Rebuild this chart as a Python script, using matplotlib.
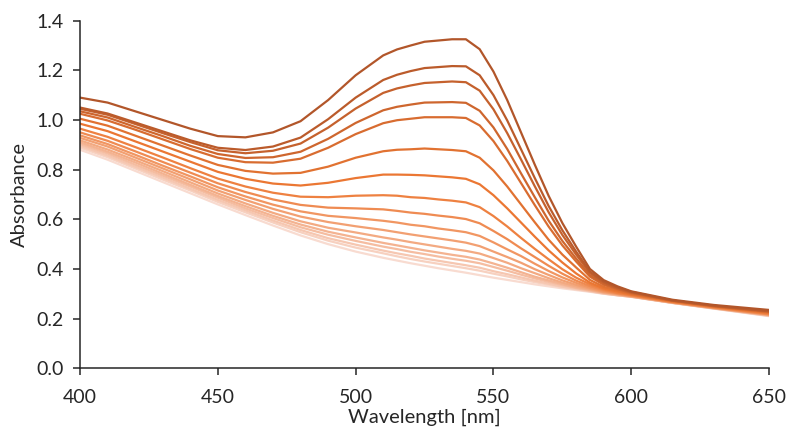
import numpy as np
import matplotlib
matplotlib.use('Agg')
import matplotlib.pyplot as plt
from matplotlib.colors import LinearSegmentedColormap

wavelength = [400, 410, 420, 430, 440, 450, 460, 470, 480, 490, 500, 510, 515, 520, 525,
              530, 535, 540, 545, 550, 555, 560, 565, 570, 575, 580, 585, 590, 595, 600,
              615, 630, 650]

# spectra, lightest (first) to darkest (last)
abs_00 = [.880, .840, .795, .750, .705, .660, .617, .575, .535, .500, .470, .445, .434, .423, .413,
          .403, .394, .385, .375, .365, .356, .347, .338, .330, .322, .315, .308, .300, .294, .288,
          .263, .240, .210]
abs_01 = [.889, .850, .805, .760, .716, .670, .628, .587, .548, .514, .486, .463, .451, .440, .430,
          .421, .412, .403, .393, .381, .370, .358, .347, .337, .327, .318, .310, .301, .294, .288,
          .263, .241, .211]
abs_02 = [.896, .857, .812, .768, .723, .678, .636, .595, .557, .524, .498, .474, .463, .453, .442,
          .433, .424, .415, .405, .391, .379, .366, .353, .341, .329, .320, .311, .301, .294, .288,
          .264, .241, .212]
abs_03 = [.903, .865, .820, .776, .732, .687, .644, .605, .568, .538, .513, .490, .480, .469, .460,
          .450, .441, .433, .423, .408, .393, .377, .362, .348, .335, .323, .313, .303, .295, .289,
          .264, .242, .213]
abs_04 = [.910, .872, .829, .784, .739, .694, .653, .614, .579, .550, .527, .505, .495, .485, .475,
          .466, .457, .449, .438, .422, .405, .387, .369, .354, .339, .325, .315, .304, .296, .289,
          .264, .242, .214]
abs_05 = [.918, .881, .838, .794, .749, .704, .664, .626, .592, .566, .547, .527, .518, .508, .499,
          .490, .481, .473, .462, .444, .425, .403, .383, .363, .345, .330, .317, .306, .298, .290,
          .264, .243, .215]
abs_06 = [.928, .893, .849, .805, .761, .716, .678, .642, .611, .589, .572, .557, .548, .539, .531,
          .523, .515, .506, .492, .470, .448, .425, .399, .376, .354, .336, .321, .307, .299, .290,
          .266, .243, .216]
abs_07 = [.938, .903, .860, .816, .773, .729, .692, .659, .632, .614, .605, .594, .587, .578, .572,
          .563, .556, .548, .533, .507, .479, .452, .421, .392, .366, .344, .325, .310, .300, .292,
          .266, .244, .217]
abs_08 = [.950, .916, .874, .831, .788, .745, .710, .680, .658, .647, .644, .640, .634, .627, .622,
          .615, .609, .601, .584, .553, .520, .483, .448, .413, .381, .353, .331, .314, .302, .293,
          .267, .245, .218]
abs_09 = [.965, .932, .891, .849, .806, .764, .732, .707, .691, .689, .695, .697, .695, .689, .686,
          .680, .675, .668, .649, .613, .571, .525, .481, .439, .399, .365, .338, .318, .304, .295,
          .267, .246, .220]
abs_10 = [.985, .955, .914, .873, .832, .791, .763, .744, .736, .747, .766, .780, .780, .779, .777,
          .773, .769, .763, .741, .697, .644, .587, .530, .475, .426, .382, .345, .322, .309, .297,
          .269, .248, .223]
abs_11 = [1.005, .977, .937, .897, .857, .819, .795, .784, .787, .812, .848, .874, .880, .882, .885,
          .882, .879, .874, .848, .797, .732, .660, .588, .518, .458, .406, .356, .328, .313, .299,
          .271, .249, .225]
abs_12 = [1.025, .998, .961, .922, .883, .848, .830, .828, .844, .888, .943, .987, .999, 1.005, 1.011,
          1.011, 1.011, 1.008, .978, .915, .835, .746, .657, .571, .495, .430, .369, .336, .318, .302,
          .272, .250, .227]
abs_13 = [1.035, 1.010, .972, .935, .896, .863, .847, .850, .872, .924, .988, 1.039, 1.053, 1.062, 1.070,
          1.071, 1.072, 1.069, 1.037, .970, .883, .785, .689, .595, .513, .442, .375, .340, .320, .304,
          .273, .251, .228]
abs_14 = [1.045, 1.021, .984, .947, .911, .878, .866, .876, .905, .969, 1.046, 1.109, 1.127, 1.139, 1.149,
          1.152, 1.155, 1.152, 1.118, 1.043, .947, .841, .733, .629, .537, .458, .384, .345, .323, .306,
          .273, .252, .230]
abs_15 = [1.050, 1.026, .990, .954, .918, .888, .879, .893, .929, 1.003, 1.090, 1.161, 1.182, 1.197, 1.209,
          1.213, 1.217, 1.216, 1.180, 1.100, .998, .882, .766, .654, .556, .470, .390, .349, .326, .308,
          .273, .252, .230]
abs_16 = [1.090, 1.070, 1.035, 1.000, .965, .935, .930, .950, .995, 1.080, 1.180, 1.260, 1.284, 1.300, 1.315,
          1.320, 1.325, 1.325, 1.285, 1.195, 1.080, .950, .820, .695, .585, .490, .400, .355, .330, .310,
          .276, .255, .235]

spectra = [abs_00, abs_01, abs_02, abs_03, abs_04, abs_05, abs_06, abs_07, abs_08,
           abs_09, abs_10, abs_11, abs_12, abs_13, abs_14, abs_15, abs_16]

x_ticks = [400, 450, 500, 550, 600, 650]
y_ticks = [0.0, 0.2, 0.4, 0.6, 0.8, 1.0, 1.2, 1.4]

plt.rcParams['font.family'] = ['Lato', 'DejaVu Sans']

# light pink -> orange -> brown, like the excel colour ramp
cmap = LinearSegmentedColormap.from_list(
    'ramp', [(0.0, '#f8dbd0'), (0.4, '#f29c6c'), (0.62, '#ec7833'), (1.0, '#b2562a')])

fig = plt.figure(figsize=(7.87, 4.30), dpi=100)
ax = fig.add_axes([0.1017, 0.1435, 0.8755, 0.8085])

n = len(spectra)
for i, spec in enumerate(spectra):
    ax.plot(wavelength, spec, color=cmap(i / (n - 1)), lw=1.6,
            solid_capstyle='round', solid_joinstyle='round')

ax.set_xlim(400, 650)
ax.set_ylim(0, 1.4)
ax.set_xticks(x_ticks)
ax.set_yticks(y_ticks)
ax.set_yticklabels([f'{v:.1f}' for v in y_ticks])

for side in ['top', 'right']:
    ax.spines[side].set_visible(False)
for side in ['left', 'bottom']:
    ax.spines[side].set_color('#262626')
    ax.spines[side].set_linewidth(1.1)

ax.tick_params(direction='out', length=5, width=1.1, color='#262626',
               labelsize=14, labelcolor='#262626')
ax.tick_params(axis='x', pad=10)
ax.tick_params(axis='y', pad=7)
ax.set_xlabel('Wavelength [nm]', fontsize=14.5, color='#262626', labelpad=2)
ax.set_ylabel('Absorbance', fontsize=14.5, color='#262626', labelpad=6)

fig.savefig('out.png', dpi=100)
